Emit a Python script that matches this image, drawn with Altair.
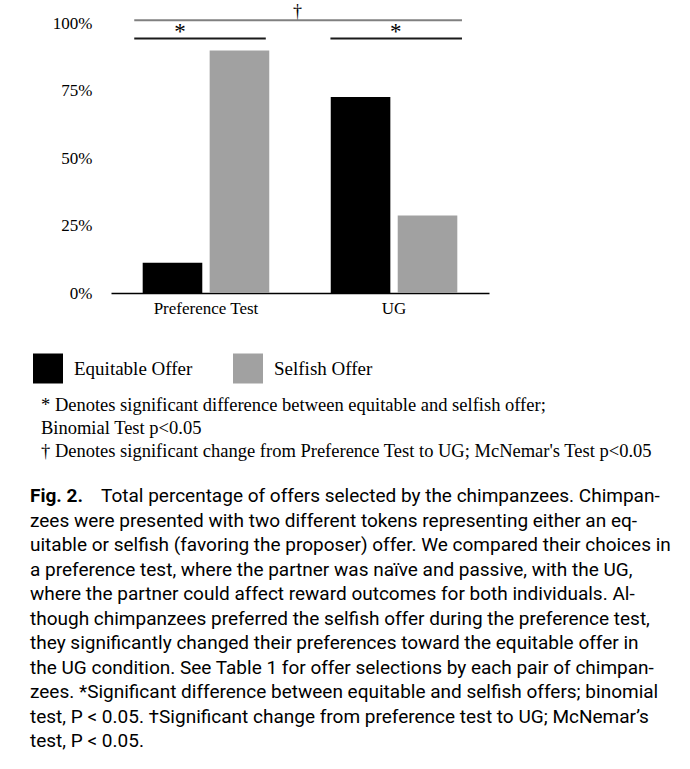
import altair as alt
import pandas as pd

# ---------------- data ----------------
conditions = ["Preference Test", "UG"]
offers = ["Equitable Offer", "Selfish Offer"]
equitable_pct = [11.2, 72.6]
selfish_pct = [89.8, 28.7]
y_ticks = [0, 25, 50, 75, 100]
bar_colors = ["#000000", "#a1a1a1"]

# significance brackets: x in category units (0..2 across the plot), y in percent
bracket_x1 = [0.123, 0.123, 1.161]
bracket_x2 = [1.857, 0.819, 1.857]
bracket_y = [101.0, 94.3, 94.3]
bracket_kind = ["change", "diff", "diff"]
symbol_x = [0.987, 0.365, 1.506]
symbol_y = [104.0, 96.6, 96.6]
symbol_text = ["†", "*", "*"]

footnotes = [
    "* Denotes significant difference between equitable and selfish offer;",
    "Binomial Test p<0.05",
    "† Denotes significant change from Preference Test to UG; McNemar's Test p<0.05",
]

caption_bold = "Fig. 2."
caption_first = "Total percentage of offers selected by the chimpanzees. Chimpan-"
caption_rest = [
    "zees were presented with two different tokens representing either an eq-",
    "uitable or selfish (favoring the proposer) offer. We compared their choices in",
    "a preference test, where the partner was naïve and passive, with the UG,",
    "where the partner could affect reward outcomes for both individuals. Al-",
    "though chimpanzees preferred the selfish offer during the preference test,",
    "they significantly changed their preferences toward the equitable offer in",
    "the UG condition. See Table 1 for offer selections by each pair of chimpan-",
    "zees. *Significant difference between equitable and selfish offers; binomial",
    "test, P < 0.05. †Significant change from preference test to UG; McNemar’s",
    "test, P < 0.05.",
]

# ---------------- tables ----------------
rows = []
for i, c in enumerate(conditions):
    rows.append({"condition": c, "offer": offers[0], "pct": equitable_pct[i]})
    rows.append({"condition": c, "offer": offers[1], "pct": selfish_pct[i]})
bar_df = pd.DataFrame(rows)

bracket_df = pd.DataFrame({"x1": bracket_x1, "x2": bracket_x2, "y": bracket_y, "kind": bracket_kind})
symbol_df = pd.DataFrame({"x": symbol_x, "y": symbol_y, "sym": symbol_text})
foot_df = pd.DataFrame({"row": list(range(len(footnotes))), "text": footnotes})
cap_bold_df = pd.DataFrame({"row": [0], "text": [caption_bold]})
cap_first_df = pd.DataFrame({"row": [0], "text": [caption_first]})
cap_rest_df = pd.DataFrame({"row": list(range(1, len(caption_rest) + 1)), "text": caption_rest})

SERIF = "Liberation Serif"
SANS = "Roboto"
PLOT_W = 378
PLOT_H = 270

yscale = alt.Scale(domain=[0, 100], nice=False, zero=True)

bars = alt.Chart(bar_df).mark_bar().encode(
    x=alt.X(
        "condition:N", sort=conditions, title=None,
        scale=alt.Scale(paddingInner=0.327, paddingOuter=0.1685),
        axis=alt.Axis(labelAngle=0, ticks=False, tickSize=0, domain=True, domainColor="#000000",
                      domainWidth=1.6, grid=False, labelFont=SERIF, labelFontSize=17,
                      labelColor="#000000", labelPadding=7),
    ),
    xOffset=alt.XOffset("offer:N", sort=offers, scale=alt.Scale(paddingInner=0.11, paddingOuter=0)),
    y=alt.Y(
        "pct:Q", title=None, scale=yscale,
        axis=alt.Axis(values=y_ticks, labelExpr="datum.value + '%'", ticks=False, tickSize=0,
                      domain=False, grid=False, labelFont=SERIF, labelFontSize=17,
                      labelColor="#000000", labelPadding=19),
    ),
    color=alt.Color(
        "offer:N", sort=offers,
        scale=alt.Scale(domain=offers, range=bar_colors),
        legend=alt.Legend(orient="none", legendX=-78, legendY=330.5, direction="horizontal",
                          title=None, symbolType="square", symbolSize=900, symbolStrokeWidth=0,
                          symbolOpacity=1, labelFont=SERIF, labelFontSize=19,
                          labelColor="#000000", labelOffset=11, columnPadding=40, padding=0),
    ),
)

ax = alt.Scale(domain=[0, 2], nice=False, zero=False)
brackets = alt.Chart(bracket_df).mark_rule(strokeWidth=2).encode(
    x=alt.X("x1:Q", scale=ax, axis=None),
    x2="x2:Q",
    y=alt.Y("y:Q", title=None),
    stroke=alt.Stroke("kind:N", scale=alt.Scale(domain=["change", "diff"], range=["#808080", "#1a1a1a"]), legend=None),
)
symbols = alt.Chart(symbol_df).mark_text(font=SERIF, baseline="middle", align="center", color="#000000").encode(
    x=alt.X("x:Q", scale=ax, axis=None),
    y=alt.Y("y:Q", title=None),
    text="sym:N",
    size=alt.Size("sym:N", scale=alt.Scale(domain=["†", "*"], range=[18, 23]), legend=None),
)
annot = alt.layer(brackets, symbols)

top = alt.layer(bars, annot).resolve_scale(x="independent").properties(width=PLOT_W, height=PLOT_H)

# footnotes panel
FOOT_STEP = 23.0
FOOT_PAD = 0.93
foot = alt.Chart(foot_df).mark_text(align="left", baseline="middle", font=SERIF, fontSize=18.5, color="#000000").encode(
    y=alt.Y("row:O", axis=None, scale=alt.Scale(padding=FOOT_PAD)),
    x=alt.value(-70),
    text="text:N",
).properties(width=PLOT_W, height=FOOT_STEP * (len(footnotes) - 1 + 2 * FOOT_PAD))

# caption panel
CAP_STEP = 24.5
CAP_PAD = 0.95
CAP_SIZE = 19
n_cap = len(caption_rest) + 1
cap_y = alt.Y("row:O", axis=None, scale=alt.Scale(padding=CAP_PAD))
cap_bold = alt.Chart(cap_bold_df).mark_text(align="left", baseline="middle", font=SANS, fontSize=CAP_SIZE,
                                            fontWeight="bold", color="#000000").encode(
    y=cap_y, x=alt.value(-81), text="text:N")
cap_first = alt.Chart(cap_first_df).mark_text(align="left", baseline="middle", font=SANS, fontSize=CAP_SIZE,
                                              color="#000000").encode(
    y=cap_y, x=alt.value(-10), text="text:N")
cap_rest = alt.Chart(cap_rest_df).mark_text(align="left", baseline="middle", font=SANS, fontSize=CAP_SIZE,
                                            color="#000000").encode(
    y=cap_y, x=alt.value(-81), text="text:N")
caption = alt.layer(cap_bold, cap_first, cap_rest).properties(
    width=PLOT_W, height=CAP_STEP * (n_cap - 1 + 2 * CAP_PAD))

chart = alt.vconcat(top, foot, caption, spacing=0).resolve_scale(color="independent").properties(
    padding={"left": 30, "top": 3, "right": 5, "bottom": 5},
    background="#ffffff",
).configure_view(stroke=None)

chart.save("out.html", embed_options={"renderer": "svg", "actions": False})
